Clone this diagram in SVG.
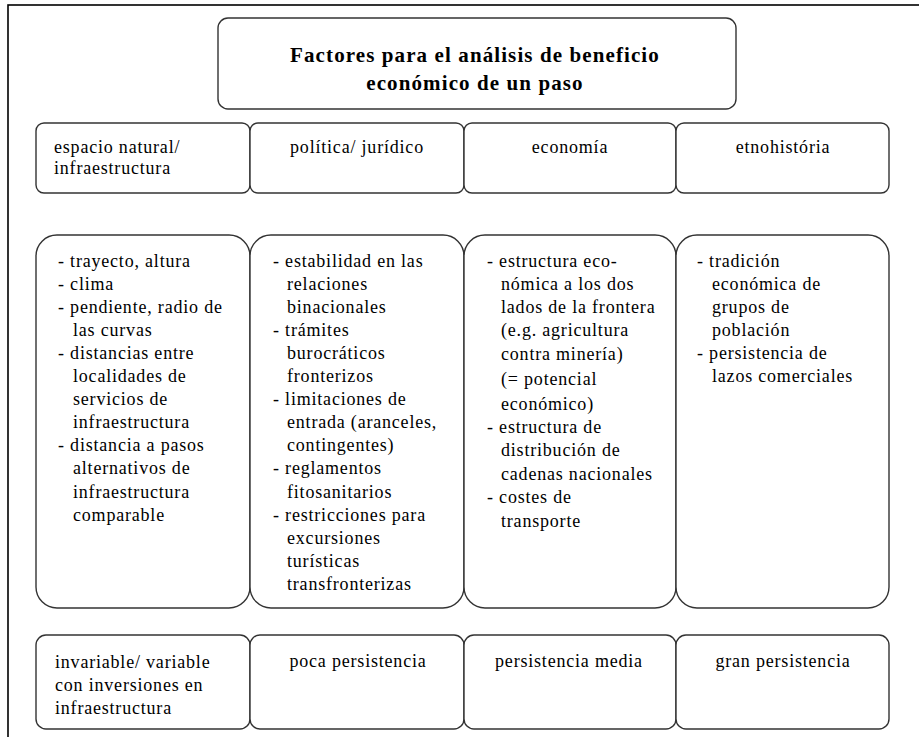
<svg xmlns="http://www.w3.org/2000/svg" width="919" height="737" viewBox="0 0 919 737">
<style>
.box{fill:#fff;stroke:#333;stroke-width:1.4}
.t{font-family:"Liberation Serif","Times New Roman",serif;font-size:18px;letter-spacing:0.8px;fill:#000}
.c{text-anchor:middle}
.title{font-family:"Liberation Serif","Times New Roman",serif;font-size:21px;font-weight:bold;letter-spacing:1.1px;fill:#000;text-anchor:middle}
</style>
<rect x="0" y="0" width="919" height="737" fill="#fff"/>
<rect x="8" y="5" width="930" height="760" fill="none" stroke="#000" stroke-width="1.6"/>
<g id="connectors"></g>
<g id="title">
<rect class="box" x="218" y="18" width="518" height="91" rx="10"/>
<text class="title" x="475" y="62">Factores para el análisis de beneficio</text>
<text class="title" x="475" y="90">económico de un paso</text>
</g>
<g id="h1">
<rect class="box" x="36" y="123" width="214" height="70" rx="8"/>
<text class="t" x="54" y="153">espacio natural/</text>
<text class="t" x="54" y="173.5">infraestructura</text>
</g>
<g id="h2">
<rect class="box" x="250" y="123" width="214" height="70" rx="8"/>
<text class="t c" x="357" y="153">política/ jurídico</text>
</g>
<g id="h3">
<rect class="box" x="464" y="123" width="212" height="70" rx="8"/>
<text class="t c" x="570" y="153">economía</text>
</g>
<g id="h4">
<rect class="box" x="676" y="123" width="213" height="70" rx="8"/>
<text class="t c" x="783" y="153">etnohistória</text>
</g>
<g id="m1">
<rect class="box" x="36" y="235" width="214" height="373" rx="21"/>
<text class="t" x="58" y="266.5">- trayecto, altura</text>
<text class="t" x="58" y="289.6">- clima</text>
<text class="t" x="58" y="312.7">- pendiente, radio de</text>
<text class="t" x="73" y="335.8">las curvas</text>
<text class="t" x="58" y="358.9">- distancias entre</text>
<text class="t" x="73" y="382">localidades de</text>
<text class="t" x="73" y="405.1">servicios de</text>
<text class="t" x="73" y="428.2">infraestructura</text>
<text class="t" x="58" y="451.3">- distancia a pasos</text>
<text class="t" x="73" y="474.4">alternativos de</text>
<text class="t" x="73" y="497.5">infraestructura</text>
<text class="t" x="73" y="520.6">comparable</text>
</g>
<g id="m2">
<rect class="box" x="250" y="235" width="214" height="373" rx="21"/>
<text class="t" x="273" y="266.5">- estabilidad en las</text>
<text class="t" x="287" y="289.6">relaciones</text>
<text class="t" x="287" y="312.7">binacionales</text>
<text class="t" x="273" y="335.8">- trámites</text>
<text class="t" x="287" y="358.9">burocráticos</text>
<text class="t" x="287" y="382">fronterizos</text>
<text class="t" x="273" y="405.1">- limitaciones de</text>
<text class="t" x="287" y="428.2">entrada (aranceles,</text>
<text class="t" x="287" y="451.3">contingentes)</text>
<text class="t" x="273" y="474.4">- reglamentos</text>
<text class="t" x="287" y="497.5">fitosanitarios</text>
<text class="t" x="273" y="520.6">- restricciones para</text>
<text class="t" x="287" y="543.7">excursiones</text>
<text class="t" x="287" y="566.8">turísticas</text>
<text class="t" x="287" y="589.9">transfronterizas</text>
</g>
<g id="m3">
<rect class="box" x="464" y="235" width="212" height="373" rx="21"/>
<text class="t" x="487" y="266.5">- estructura eco-</text>
<text class="t" x="501" y="289.9">nómica a los dos</text>
<text class="t" x="501" y="313.2">lados de la frontera</text>
<text class="t" x="501" y="336">(e.g. agricultura</text>
<text class="t" x="501" y="359.5">contra minería)</text>
<text class="t" x="501" y="384.5">(= potencial</text>
<text class="t" x="501" y="410">económico)</text>
<text class="t" x="487" y="433.2">- estructura de</text>
<text class="t" x="501" y="456">distribución de</text>
<text class="t" x="501" y="479.8">cadenas nacionales</text>
<text class="t" x="487" y="502.6">- costes de</text>
<text class="t" x="501" y="526.5">transporte</text>
</g>
<g id="m4">
<rect class="box" x="676" y="235" width="213" height="373" rx="21"/>
<text class="t" x="697" y="266.5">- tradición</text>
<text class="t" x="712" y="289.6">económica de</text>
<text class="t" x="712" y="312.7">grupos de</text>
<text class="t" x="712" y="335.8">población</text>
<text class="t" x="697" y="358.9">- persistencia de</text>
<text class="t" x="712" y="382">lazos comerciales</text>
</g>
<g id="b1">
<rect class="box" x="36" y="635" width="214" height="94" rx="10"/>
<text class="t" x="55" y="667.5">invariable/ variable</text>
<text class="t" x="55" y="690.5">con inversiones en</text>
<text class="t" x="55" y="713.5">infraestructura</text>
</g>
<g id="b2">
<rect class="box" x="250" y="635" width="214" height="94" rx="10"/>
<text class="t c" x="358" y="666.5">poca persistencia</text>
</g>
<g id="b3">
<rect class="box" x="464" y="635" width="212" height="94" rx="10"/>
<text class="t c" x="569" y="666.5">persistencia media</text>
</g>
<g id="b4">
<rect class="box" x="676" y="635" width="213" height="94" rx="10"/>
<text class="t c" x="783" y="666.5">gran persistencia</text>
</g>
</svg>
